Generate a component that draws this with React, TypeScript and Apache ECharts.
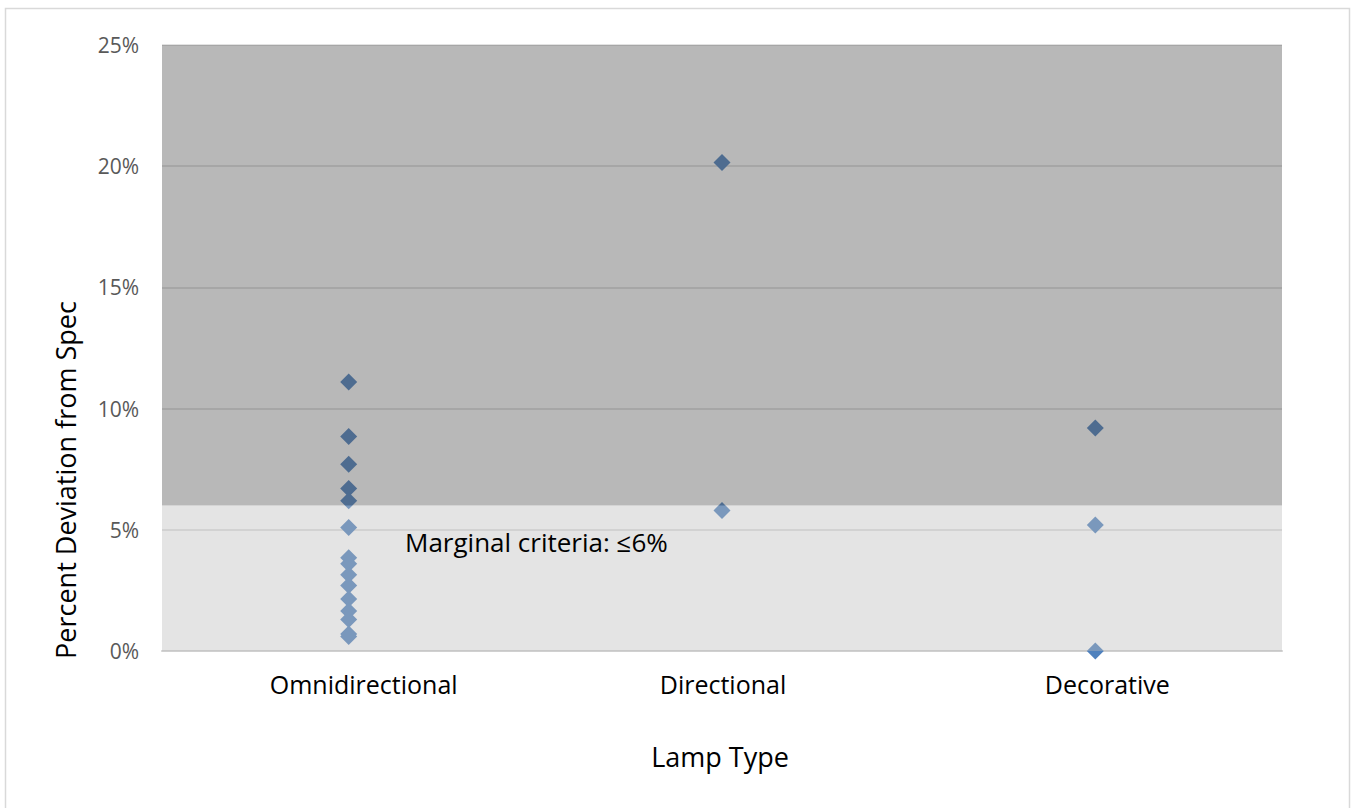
import React, { useEffect, useRef } from "react";
import * as echarts from "echarts";

const categories = ["Omnidirectional", "Directional", "Decorative"];
const omniValues = [11.1, 8.85, 7.7, 6.7, 6.2, 5.1, 3.85, 3.6, 3.15, 2.7, 2.15, 1.65, 1.3, 0.7, 0.6];
const directionalValues = [20.15, 5.8];
const decorativeValues = [9.2, 5.2, 0];
const seriesByCategory = [omniValues, directionalValues, decorativeValues];
const marginalLimit = 6;
const yMax = 25;
const yInterval = 5;
const bandLabel = "Marginal criteria: \u22646%";
const xTitle = "Lamp Type";
const yTitle = "Percent Deviation from Spec";

const FONT = "'Open Sans', 'Noto Sans', sans-serif";

export default function App() {
  const ref = useRef<HTMLDivElement>(null);
  useEffect(() => {
    if (!ref.current) return;
    const chart = echarts.init(ref.current, undefined, { renderer: "svg" });
    const points: [string, number][] = [];
    seriesByCategory.forEach((vals, i) => vals.forEach((v) => points.push([categories[i], v])));
    const labelShift = [30, 2, 24];
    const bands = [
      [marginalLimit, yMax, "rgba(77,77,77,0.4)"],
      [0, marginalLimit, "rgba(187,187,187,0.4)"],
    ];
    chart.setOption({
      animation: false,
      backgroundColor: "#ffffff",
      grid: { left: 162, right: 69, top: 45, bottom: 157, containLabel: false },
      xAxis: {
        type: "category",
        data: categories.map((c, i) => ({ value: c, textStyle: { padding: [0, 0, 0, labelShift[i]] } })),
        boundaryGap: true,
        axisLine: { show: true, lineStyle: { color: "#d0d0d0", width: 2 } },
        axisTick: { show: false },
        splitLine: { show: false },
        axisLabel: { fontFamily: FONT, fontSize: 25, color: "#000000", margin: 20 },
      },
      yAxis: {
        type: "value",
        min: 0,
        max: yMax,
        interval: yInterval,
        axisLine: { show: false },
        axisTick: { show: false },
        axisLabel: { formatter: "{value}%", fontFamily: FONT, fontSize: 21, color: "#595959", margin: 23 },
        splitLine: { show: true, lineStyle: { color: "#d9d9d9", width: 1.5 } },
      },
      series: [
        {
          type: "scatter",
          z: 1,
          symbol: "diamond",
          symbolSize: 17,
          itemStyle: { color: "#4f81bd", opacity: 1 },
          data: points,
          silent: true,
        },
        {
          type: "custom",
          z: 10,
          silent: true,
          clip: false,
          data: bands.map((b) => [b[0], b[1]]),
          encode: { y: [0, 1] },
          renderItem: (params: any, api: any) => {
            const cs = params.coordSys;
            const lo = api.value(0);
            const hi = api.value(1);
            const yLo = api.coord([categories[0], lo])[1];
            const yHi = api.coord([categories[0], hi])[1];
            return {
              type: "rect",
              shape: { x: cs.x, y: yHi, width: cs.width, height: yLo - yHi },
              style: { fill: bands[params.dataIndex][2] as string },
            };
          },
        },
      ],
      graphic: [
        {
          type: "rect",
          shape: { x: 5.5, y: 8.5, width: 1344, height: 820 },
          style: { fill: "none", stroke: "#d9d9d9", lineWidth: 1.5 },
          silent: true,
          z: 0,
        },
        {
          type: "text",
          x: 405,
          y: 542,
          z: 100,
          style: {
            text: bandLabel,
            fontFamily: FONT,
            fontSize: 26,
            fill: "#000000",
            textVerticalAlign: "middle",
            textAlign: "left",
          },
        },
        {
          type: "text",
          x: 720,
          y: 756,
          z: 100,
          style: {
            text: xTitle,
            fontFamily: FONT,
            fontSize: 27,
            fill: "#000000",
            textVerticalAlign: "middle",
            textAlign: "center",
          },
        },
        {
          type: "text",
          x: 65,
          y: 480,
          rotation: Math.PI / 2,
          z: 100,
          style: {
            text: yTitle,
            fontFamily: FONT,
            fontSize: 27,
            fill: "#000000",
            textVerticalAlign: "middle",
            textAlign: "center",
          },
        },
      ],
    });
    return () => chart.dispose();
  }, []);
  return (
    <div
      ref={ref}
      style={{ position: "absolute", left: 0, top: 0, width: 1351, height: 808 }}
    />
  );
}
